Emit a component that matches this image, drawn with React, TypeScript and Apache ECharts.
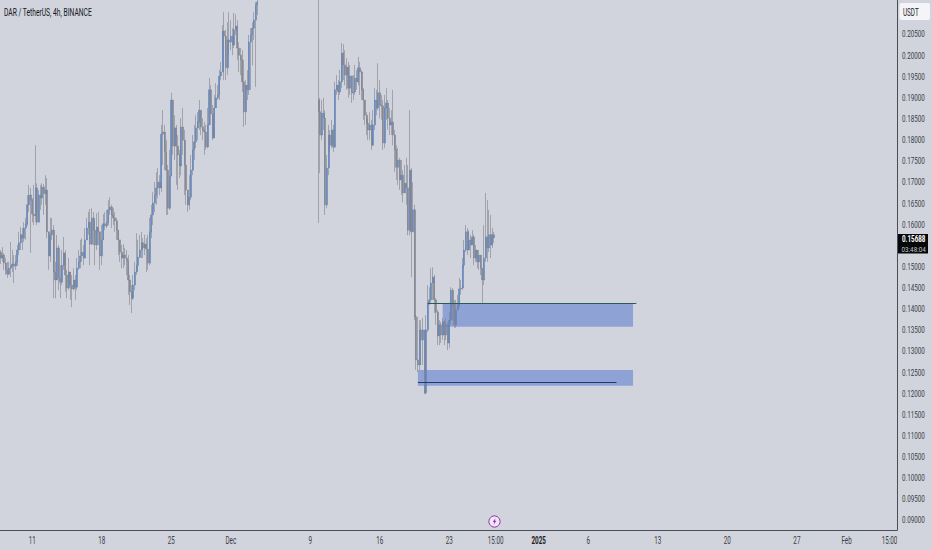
import React, { useEffect, useRef } from "react";
import * as echarts from "echarts";

const CHART_TITLE = "DAR / TetherUS, 4h, BINANCE";
const QUOTE = "USDT";
const LAST_PRICE = "0.15688";
const COUNTDOWN = "03:48:04";

// 0.155 sits behind the last-price badge in the reference, so it is not drawn.
const priceTicks = [0.09, 0.095, 0.1, 0.105, 0.11, 0.115, 0.12, 0.125, 0.13, 0.135, 0.14, 0.145, 0.15, 0.16, 0.165, 0.17, 0.175, 0.18, 0.185, 0.19, 0.195, 0.2, 0.205];

const dateLabels: Record<string, string> = {
  "2024-11-11 00:00": "11", "2024-11-18 00:00": "18", "2024-11-25 00:00": "25",
  "2024-12-01 00:00": "Dec", "2024-12-09 00:00": "9", "2024-12-16 00:00": "16",
  "2024-12-23 00:00": "23", "2024-12-27 16:00": "15:00", "2025-01-01 00:00": "2025",
  "2025-01-06 00:00": "6", "2025-01-13 00:00": "13", "2025-01-20 00:00": "20",
  "2025-01-27 00:00": "27", "2025-02-01 00:00": "Feb", "2025-02-05 08:00": "15:00",
};

// Rally leg: November 7 to early December
const opensA = [.1535,.1521,.1528,.1509,.1493,.1483,.1497,.1502,.1507,.1502,.1512,.1540,.1557,.1576,.1568,.1592,.1602,.1647,.1670,.1658,.1625,.1621,.1687,.1606,.1670,.1663,.1689,.1673,.1682,.1583,.1526,.1576,.1587,.1488,.1469,.1545,.1474,.1464,.1504,.1533,.1481,.1450,.1488,.1457,.1448,.1469,.1452,.1497,.1512,.1526,.1535,.1521,.1564,.1592,.1606,.1554,.1616,.1587,.1552,.1594,.1583,.1526,.1564,.1602,.1597,.1606,.1635,.1642,.1623,.1616,.1609,.1587,.1564,.1535,.1521,.1528,.1521,.1514,.1469,.1441,.1426,.1457,.1488,.1504,.1523,.1540,.1557,.1545,.1554,.1542,.1509,.1583,.1623,.1651,.1670,.1687,.1701,.1687,.1814,.1819,.1772,.1729,.1639,.1715,.1895,.1786,.1829,.1786,.1765,.1739,.1831,.1800,.1741,.1682,.1647,.1665,.1729,.1777,.1796,.1829,.1843,.1871,.1831,.1824,.1819,.1784,.1836,.1919,.1862,.1805,.1876,.1900,.1907,.1952,.1961,.2058,.2046,.1971,.2037,.2032,.2046,.2025,.2061,.2070,.2018,.2001,.1990,.1938,.1867,.1930,.1919,.2032,.2049,.2065,.2084,.2120];
const closesA = [.1521,.1528,.1509,.1493,.1483,.1497,.1502,.1507,.1502,.1512,.1540,.1557,.1576,.1568,.1592,.1602,.1647,.1670,.1658,.1625,.1621,.1687,.1606,.1670,.1663,.1689,.1673,.1682,.1583,.1526,.1576,.1587,.1488,.1469,.1545,.1474,.1464,.1504,.1533,.1481,.1450,.1488,.1457,.1448,.1469,.1452,.1497,.1512,.1526,.1535,.1521,.1564,.1592,.1606,.1554,.1616,.1587,.1552,.1594,.1583,.1526,.1564,.1602,.1597,.1606,.1635,.1642,.1623,.1616,.1609,.1587,.1564,.1535,.1521,.1528,.1521,.1514,.1469,.1441,.1426,.1457,.1488,.1504,.1523,.1540,.1557,.1545,.1554,.1542,.1509,.1583,.1623,.1651,.1670,.1687,.1701,.1687,.1814,.1819,.1772,.1729,.1639,.1715,.1895,.1786,.1829,.1786,.1765,.1739,.1831,.1800,.1741,.1682,.1647,.1665,.1729,.1777,.1796,.1829,.1843,.1871,.1831,.1824,.1819,.1784,.1836,.1919,.1862,.1805,.1876,.1900,.1907,.1952,.1961,.2058,.2046,.1971,.2037,.2032,.2046,.2025,.2061,.2070,.2018,.2001,.1990,.1938,.1867,.1930,.1919,.2032,.2049,.2065,.2084,.2120,.2127];
const highsA = [.1540,.1547,.1533,.1521,.1512,.1512,.1559,.1540,.1528,.1528,.1552,.1583,.1594,.1592,.1606,.1616,.1670,.1694,.1687,.1663,.1694,.1788,.1698,.1682,.1694,.1698,.1696,.1717,.1710,.1583,.1616,.1616,.1599,.1512,.1576,.1552,.1504,.1540,.1571,.1540,.1493,.1521,.1488,.1481,.1497,.1481,.1521,.1540,.1564,.1568,.1552,.1592,.1616,.1630,.1637,.1639,.1630,.1611,.1627,.1630,.1583,.1599,.1625,.1630,.1635,.1658,.1665,.1647,.1639,.1630,.1616,.1587,.1564,.1552,.1554,.1545,.1540,.1528,.1481,.1457,.1481,.1512,.1580,.1564,.1576,.1583,.1568,.1576,.1568,.1576,.1616,.1647,.1677,.1701,.1724,.1734,.1717,.1836,.1871,.1836,.1800,.1741,.1777,.1912,.1848,.1859,.1836,.1812,.1777,.1852,.1876,.1824,.1741,.1670,.1717,.1765,.1812,.1836,.1859,.1866,.1895,.1866,.1852,.1843,.1836,.1876,.1947,.1930,.1883,.1907,.1935,.1930,.1966,.1985,.2072,.2103,.2061,.2079,.2103,.2084,.2065,.2101,.2098,.2084,.2032,.2018,.2013,.1990,.1942,.1966,.2049,.2065,.2079,.2103,.2127,.2132];
const lowsA = [.1507,.1512,.1493,.1481,.1474,.1481,.1476,.1488,.1462,.1493,.1502,.1528,.1540,.1540,.1559,.1564,.1597,.1630,.1533,.1606,.1599,.1606,.1599,.1606,.1635,.1647,.1623,.1647,.1568,.1493,.1512,.1564,.1426,.1426,.1469,.1445,.1426,.1457,.1493,.1441,.1426,.1445,.1422,.1405,.1445,.1422,.1445,.1493,.1497,.1512,.1504,.1528,.1564,.1576,.1504,.1552,.1552,.1504,.1540,.1552,.1493,.1504,.1576,.1587,.1592,.1599,.1623,.1592,.1599,.1583,.1564,.1528,.1512,.1497,.1497,.1504,.1481,.1434,.1410,.1391,.1422,.1445,.1481,.1493,.1521,.1521,.1521,.1528,.1488,.1493,.1504,.1568,.1599,.1630,.1647,.1663,.1670,.1677,.1741,.1729,.1623,.1623,.1635,.1753,.1765,.1753,.1694,.1682,.1710,.1717,.1765,.1670,.1647,.1630,.1635,.1658,.1717,.1753,.1781,.1800,.1824,.1812,.1800,.1765,.1777,.1781,.1859,.1836,.1800,.1829,.1876,.1895,.1895,.1942,.1961,.1942,.1942,.1954,.2001,.2013,.2001,.2018,.2049,.1990,.1961,.1954,.1914,.1831,.1836,.1895,.1907,.1919,.1977,.2037,.1926,.2096];

// Recovery leg: December 9 to December 27
const opensB = [.1895,.1867,.1812,.1864,.1852,.1647,.1734,.1812,.1788,.1824,.1784,.1919,.1930,.1914,.1938,.2006,.1978,.1954,.1973,.1923,.1952,.1912,.1914,.1947,.1938,.1971,.1961,.1919,.1895,.1859,.1840,.1824,.1836,.1788,.1836,.1895,.1876,.1912,.1883,.1881,.1793,.1876,.1888,.1852,.1836,.1843,.1812,.1777,.1736,.1753,.1706,.1717,.1675,.1698,.1687,.1587,.1729,.1583,.1635,.1382,.1280,.1268,.1351,.1327,.1351,.1202,.1351,.1415,.1422,.1462,.1476,.1422,.1393,.1337,.1363,.1339,.1370,.1339,.1363,.1320,.1374,.1445,.1410,.1363,.1398,.1410,.1448,.1450,.1504,.1540,.1583,.1540,.1564,.1552,.1571,.1521,.1540,.1512,.1528,.1497,.1469,.1521,.1571,.1545,.1576,.1552,.1576];
const closesB = [.1867,.1812,.1864,.1852,.1647,.1734,.1812,.1788,.1824,.1784,.1919,.1930,.1914,.1938,.2006,.1978,.1954,.1973,.1923,.1952,.1912,.1914,.1947,.1938,.1971,.1961,.1919,.1895,.1859,.1840,.1824,.1836,.1788,.1836,.1895,.1876,.1912,.1883,.1881,.1793,.1876,.1888,.1852,.1836,.1843,.1812,.1777,.1736,.1753,.1706,.1717,.1675,.1698,.1687,.1587,.1729,.1583,.1635,.1382,.1280,.1268,.1351,.1327,.1351,.1202,.1351,.1415,.1422,.1462,.1476,.1422,.1393,.1337,.1363,.1339,.1370,.1339,.1363,.1320,.1374,.1445,.1410,.1363,.1398,.1410,.1448,.1450,.1504,.1540,.1583,.1540,.1564,.1552,.1571,.1521,.1540,.1512,.1528,.1497,.1469,.1521,.1571,.1545,.1576,.1552,.1576,.15688];
const highsB = [.2200,.1900,.1895,.1900,.1871,.1765,.1836,.1824,.1848,.1836,.1938,.1954,.1942,.1966,.2030,.2027,.2013,.1994,.1985,.1978,.1942,.1954,.1978,.1966,.1997,.1985,.1966,.1923,.1895,.1866,.1852,.1866,.1848,.1871,.1923,.1919,.1982,.1942,.1907,.1895,.1907,.1923,.1895,.1876,.1871,.1919,.1824,.1788,.1781,.1758,.1753,.1729,.1741,.1758,.1741,.1871,.1734,.1700,.1647,.1386,.1382,.1374,.1374,.1379,.1351,.1386,.1457,.1452,.1497,.1499,.1481,.1426,.1398,.1374,.1370,.1379,.1374,.1379,.1370,.1393,.1452,.1450,.1422,.1422,.1434,.1474,.1469,.1521,.1564,.1599,.1592,.1587,.1576,.1587,.1576,.1552,.1540,.1540,.1528,.1497,.1599,.1675,.1658,.1635,.1623,.1592,.1583];
const lowsB = [.1604,.1722,.1800,.1824,.1623,.1639,.1717,.1772,.1781,.1772,.1781,.1907,.1895,.1907,.1923,.1942,.1930,.1919,.1900,.1907,.1888,.1895,.1907,.1919,.1930,.1907,.1895,.1848,.1836,.1812,.1800,.1800,.1777,.1788,.1824,.1859,.1871,.1852,.1848,.1777,.1781,.1848,.1824,.1812,.1812,.1788,.1724,.1706,.1694,.1682,.1670,.1653,.1682,.1647,.1575,.1575,.1476,.1587,.1374,.1256,.1251,.1256,.1268,.1268,.1199,.1199,.1346,.1410,.1415,.1422,.1391,.1363,.1315,.1315,.1320,.1327,.1315,.1327,.1303,.1308,.1363,.1374,.1356,.1356,.1398,.1403,.1434,.1445,.1497,.1535,.1528,.1540,.1521,.1552,.1504,.1512,.1497,.1493,.1481,.1415,.1457,.1512,.1512,.1535,.1521,.1545,.1557];

const demandZoneUpper = { from: "2024-12-22 08:00", to: "2025-01-10 12:00", low: 0.13585, high: 0.14139 };
const demandZoneLower = { from: "2024-12-19 20:00", to: "2025-01-10 12:00", low: 0.12189, high: 0.12561 };
const levelUpper = { from: "2024-12-20 20:00", to: "2025-01-10 20:00", price: 0.1414 };
const levelLower = { from: "2024-12-19 20:00", to: "2025-01-08 20:00", price: 0.12265 };

const SLOT_COUNT = 542;
const SEGMENT_B_START = 192;
const START_UTC = Date.UTC(2024, 10, 7, 20, 0);

const pad = (n: number) => String(n).padStart(2, "0");
const stamp = (t: number) => {
  const d = new Date(t);
  return `${d.getUTCFullYear()}-${pad(d.getUTCMonth() + 1)}-${pad(d.getUTCDate())} ${pad(d.getUTCHours())}:${pad(d.getUTCMinutes())}`;
};
const categories = Array.from({ length: SLOT_COUNT }, (_, i) => stamp(START_UTC + i * 4 * 3600 * 1000));

const BG = "#d1d4dc";
const EMPTY = ["-", "-", "-", "-"];

function wickData() {
  const out: any[] = categories.map(() => EMPTY);
  opensA.forEach((o, i) => {
    out[i] = [o, closesA[i], Math.min(lowsA[i], o, closesA[i]), Math.max(highsA[i], o, closesA[i])];
  });
  opensB.forEach((o, i) => {
    out[SEGMENT_B_START + i] = [o, closesB[i], Math.min(lowsB[i], o, closesB[i]), Math.max(highsB[i], o, closesB[i])];
  });
  return out;
}
function bodyData() {
  const out: any[] = categories.map(() => EMPTY);
  opensA.forEach((o, i) => {
    out[i] = [o, closesA[i], Math.min(o, closesA[i]), Math.max(o, closesA[i])];
  });
  opensB.forEach((o, i) => {
    out[SEGMENT_B_START + i] = [o, closesB[i], Math.min(o, closesB[i]), Math.max(o, closesB[i])];
  });
  return out;
}

// The reference's type is strongly condensed and no condensed face is installed.
function condenseTexts(root: HTMLElement) {
  root.querySelectorAll("svg text").forEach((node) => {
    const el = node as SVGTextElement;
    if (!el.textContent) return;
    const w = el.getComputedTextLength();
    const size = parseFloat(getComputedStyle(el).fontSize) || 10;
    const squeeze = el.textContent === CHART_TITLE ? 0.61 : 6.3 / size;
    if (w > 0) {
      el.setAttribute("textLength", String(w * squeeze));
      el.setAttribute("lengthAdjust", "spacingAndGlyphs");
    }
  });
}

export default function App() {
  const ref = useRef<HTMLDivElement>(null);
  useEffect(() => {
    const chart = echarts.init(ref.current!, null, { renderer: "svg" });
    const face = "Roboto, 'Liberation Sans', sans-serif";
    chart.setOption({
      animation: false,
      backgroundColor: BG,
      grid: { left: 0, right: 35, top: 0, bottom: 20, outerBoundsMode: "none" },
      title: {
        text: CHART_TITLE,
        left: 4,
        top: 7,
        padding: 0,
        textStyle: { fontFamily: face, fontSize: 11, fontWeight: "normal", color: "#131722" },
      },
      xAxis: {
        type: "category",
        data: categories,
        axisLine: { lineStyle: { color: "#4a4d57", width: 1 } },
        axisTick: { show: false },
        splitLine: { show: false },
        axisLabel: {
          interval: 0,
          margin: 5,
          color: "#3a3d45",
          fontFamily: face,
          fontSize: 10,
          formatter: (v: string) => {
            const t = dateLabels[v];
            if (!t) return "";
            return t === "2025" ? `{b|${t}}` : t;
          },
          rich: { b: { fontWeight: "bold", fontFamily: face, fontSize: 10, color: "#222" } },
        },
      },
      yAxis: {
        type: "value",
        position: "right",
        min: 0.08775,
        max: 0.21316,
        scale: true,
        splitLine: { show: false },
        axisLine: { show: true, lineStyle: { color: "#4a4d57", width: 1 } },
        axisTick: { show: false },
        axisLabel: {
          customValues: priceTicks,
          margin: 5,
          color: "#3a3d45",
          fontFamily: face,
          fontSize: 8.2,
          formatter: (v: number) => v.toFixed(5),
        },
      },
      series: [
        {
          name: "wicks",
          type: "candlestick",
          data: wickData(),
          barWidth: 1,
          z: 2,
          itemStyle: {
            color: "rgba(130,133,142,0.62)",
            color0: "rgba(130,133,142,0.62)",
            borderColor: "rgba(130,133,142,0.62)",
            borderColor0: "rgba(130,133,142,0.62)",
            borderWidth: 1,
          },
        },
        {
          name: "bodies",
          type: "candlestick",
          data: bodyData(),
          barWidth: 1.5,
          z: 3,
          itemStyle: {
            color: "#6083b9",
            color0: "#7f828e",
            borderColor: "#6083b9",
            borderColor0: "#7f828e",
            borderWidth: 0.5,
          },
          markArea: {
            silent: true,
            itemStyle: { color: "rgba(97,129,210,0.6)" },
            data: [
              [{ coord: [demandZoneUpper.from, demandZoneUpper.high] }, { coord: [demandZoneUpper.to, demandZoneUpper.low] }],
              [{ coord: [demandZoneLower.from, demandZoneLower.high] }, { coord: [demandZoneLower.to, demandZoneLower.low] }],
            ],
          },
          markLine: {
            silent: true,
            symbol: "none",
            label: { show: false },
            data: [
              [
                { coord: [levelUpper.from, levelUpper.price], lineStyle: { color: "#2f5a4f", width: 1, type: "solid" } },
                { coord: [levelUpper.to, levelUpper.price] },
              ],
              [
                { coord: [levelLower.from, levelLower.price], lineStyle: { color: "#24386e", width: 1, type: "solid" } },
                { coord: [levelLower.to, levelLower.price] },
              ],
            ],
          },
        },
      ],
      graphic: [
        { type: "rect", z: 50, shape: { x: 897.5, y: 531, width: 35, height: 19 }, style: { fill: BG } },
        { type: "rect", z: 50, shape: { x: 899.5, y: 3, width: 30.5, height: 17, r: 2 }, style: { fill: "#f4f5f8" } },
        { type: "text", z: 51, x: 903, y: 12, style: { text: QUOTE, fontFamily: face, fontSize: 10, fill: "#222", verticalAlign: "middle" } },
        { type: "rect", z: 50, shape: { x: 898, y: 234, width: 30, height: 19.5 }, style: { fill: "#060709" } },
        { type: "text", z: 51, x: 902, y: 239, style: { text: LAST_PRICE, fontFamily: face, fontSize: 8.2, fontWeight: "bold", fill: "#ffffff", verticalAlign: "middle" } },
        { type: "text", z: 51, x: 901.5, y: 249, style: { text: COUNTDOWN, fontFamily: face, fontSize: 7.8, fill: "#c4c6cc", verticalAlign: "middle" } },
        { type: "circle", z: 50, shape: { cx: 494.5, cy: 521.5, r: 5.6 }, style: { fill: "#eceaf2", stroke: "#9c27b0", lineWidth: 1 } },
        { type: "polygon", z: 51, shape: { points: [[495.6, 518], [492.8, 522], [494.4, 522], [493.4, 525], [496.4, 520.8], [494.8, 520.8]] }, style: { fill: "#9c27b0" } },
      ],
    });
    condenseTexts(ref.current!);
    return () => chart.dispose();
  }, []);
  return <div ref={ref} style={{ position: "fixed", left: 0, top: 0, width: 932, height: 550 }} />;
}
